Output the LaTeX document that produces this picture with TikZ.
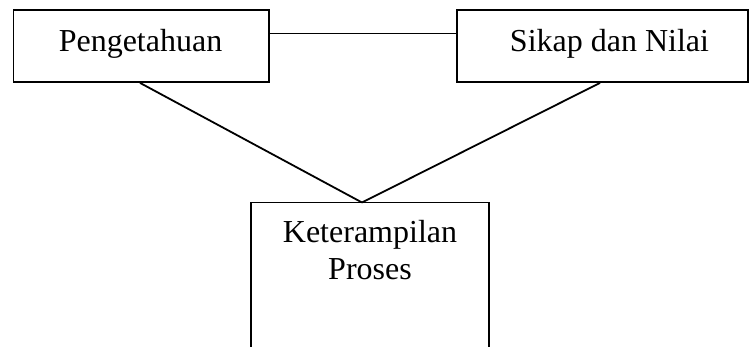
\documentclass[tikz,border=0pt]{standalone}
\usepackage{fontspec}
\setmainfont{Liberation Serif}
\begin{document}
\begin{tikzpicture}[x=1pt,y=-1pt,
  box/.style={draw, line width=1.8pt, rectangle, inner sep=0pt},
  lbl/.style={anchor=base, inner sep=0pt, font=\fontsize{32}{37}\selectfont},
  conn/.style={line width=1.8pt}]
\useasboundingbox (0,0) rectangle (750,347);
\node[box, minimum width=255.5pt, minimum height=72pt] (p) at (141.25,46) {};
\node[lbl] (pt) at (140.5,52) {Pengetahuan};
\node[box, minimum width=291pt, minimum height=72pt] (s) at (602.5,46) {};
\node[lbl] (st) at (609.5,52) {Sikap dan Nilai};
\coordinate (h) at (0,33.5);
\coordinate (apex) at (362,202.5);
\coordinate (kbl) at (251,350);
\coordinate (ktl) at (251,202.5);
\coordinate (ktr) at (489,202.5);
\coordinate (kbr) at (489,350);
\draw[conn] (kbl) -- (ktl) -- (ktr) -- (kbr);
\node[lbl] (k1) at (370,243) {Keterampilan};
\node[lbl] (k2) at (370,280) {Proses};
\draw[conn] (p.east |- h) -- (s.west |- h);
\draw[conn] (p.south -| 140,0) -- (apex);
\draw[conn] (s.south -| 600,0) -- (apex);
\end{tikzpicture}
\end{document}
